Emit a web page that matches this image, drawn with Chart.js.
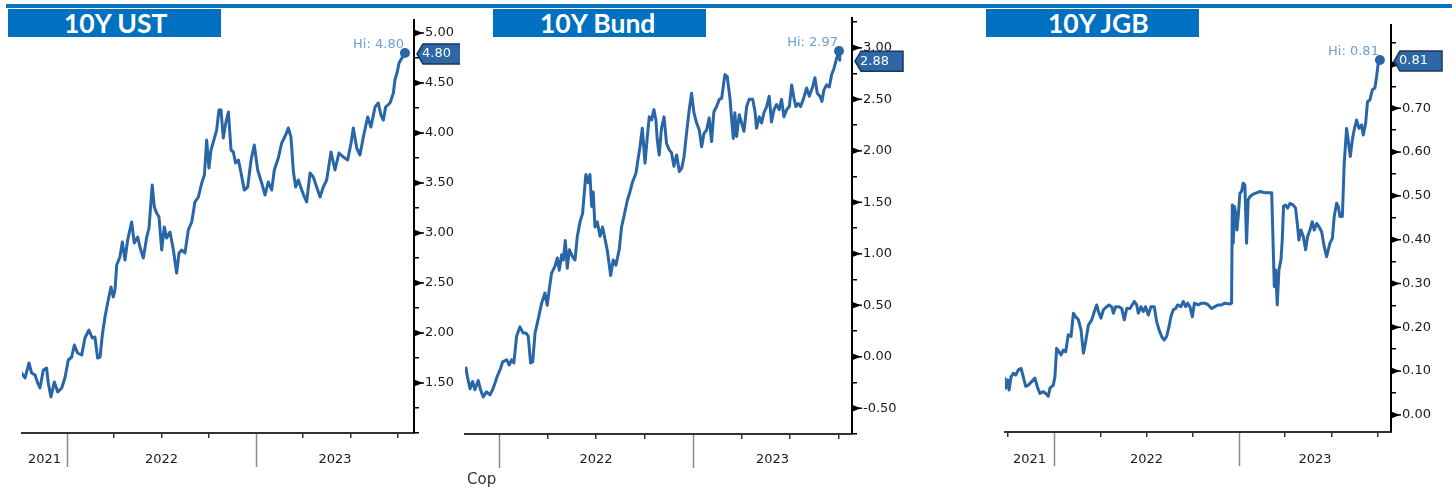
<!DOCTYPE html>
<html><head><meta charset="utf-8">
<script src="https://cdn.jsdelivr.net/npm/chart.js@4.4.0/dist/chart.umd.min.js"></script>
<style>
html,body{margin:0;padding:0;background:#fff;}
body{width:1452px;height:491px;position:relative;overflow:hidden;}
.topline{position:absolute;left:6px;top:4px;width:1446px;height:4px;background:#0c74bf;}
.tbox{position:absolute;top:9px;height:28px;width:213px;background:#0070c0;overflow:hidden;}
.tbox span{position:absolute;top:0;line-height:28px;color:#fff;font-family:Lato,"Open Sans",sans-serif;font-weight:bold;font-size:26.5px;white-space:nowrap;}
canvas{position:absolute;top:0;}
.cop{position:absolute;left:467px;top:470px;font-family:"DejaVu Sans",sans-serif;font-size:15px;color:#333;white-space:nowrap;}
</style></head>
<body>
<div class="topline"></div>
<div class="tbox" style="left:8px"><span style="left:56px">10Y UST</span></div>
<div class="tbox" style="left:493px"><span style="left:47px">10Y Bund</span></div>
<div class="tbox" style="left:986px"><span style="left:62px">10Y JGB</span></div>
<canvas id="c1" width="460" height="491" style="left:0px"></canvas>
<canvas id="c2" width="520" height="491" style="left:460px"></canvas>
<canvas id="c3" width="472" height="491" style="left:980px"></canvas>
<div class="cop">Cop</div>
<script>
// ---------- DATA (x = decimal year, y = yield %) ----------
const ustX = [2021.760,2021.778,2021.799,2021.813,2021.831,2021.845,2021.857,2021.875,2021.892,2021.901,2021.915,2021.933,2021.951,2021.972,2021.989,
2022.007,2022.025,2022.039,2022.056,2022.078,2022.095,2022.116,2022.134,2022.148,2022.162,2022.175,2022.187,2022.201,2022.215,2022.224,2022.233,2022.245,2022.254,2022.263,2022.280,2022.293,2022.307,2022.321,2022.342,2022.356,2022.374,2022.386,2022.404,2022.422,2022.434,2022.451,2022.462,2022.474,2022.487,2022.501,2022.515,2022.527,2022.545,2022.563,2022.580,2022.593,2022.607,2022.624,2022.642,2022.660,2022.677,2022.695,2022.713,2022.727,2022.739,2022.751,2022.762,2022.780,2022.792,2022.804,2022.815,2022.827,2022.840,2022.854,2022.868,2022.880,2022.892,2022.907,2022.921,2022.938,2022.956,2022.974,2022.991,
2023.009,2023.030,2023.048,2023.065,2023.083,2023.097,2023.118,2023.136,2023.157,2023.171,2023.185,2023.198,2023.210,2023.224,2023.242,2023.256,2023.268,2023.286,2023.303,2023.321,2023.339,2023.356,2023.374,2023.397,2023.418,2023.439,2023.462,2023.485,2023.503,2023.515,2023.533,2023.550,2023.568,2023.591,2023.608,2023.630,2023.647,2023.661,2023.674,2023.686,2023.709,2023.727,2023.735,2023.746,2023.757,2023.772,2023.788];
const ustY = [1.60,1.55,1.70,1.60,1.58,1.50,1.45,1.63,1.65,1.50,1.36,1.51,1.41,1.45,1.55,
1.73,1.76,1.88,1.80,1.78,1.95,2.03,1.95,1.96,1.75,1.76,1.98,2.16,2.30,2.38,2.46,2.36,2.43,2.68,2.76,2.91,2.73,2.93,3.11,2.90,2.96,2.86,2.75,2.96,3.05,3.48,3.26,3.20,3.16,2.83,3.06,2.95,3.01,2.83,2.60,2.80,2.83,2.80,3.03,3.11,3.31,3.36,3.50,3.58,3.93,3.65,3.83,3.95,4.03,4.23,4.23,3.95,4.10,4.21,3.83,3.81,3.70,3.73,3.60,3.43,3.46,3.73,3.88,
3.63,3.50,3.38,3.51,3.43,3.63,3.75,3.90,3.98,4.05,3.96,3.61,3.46,3.53,3.43,3.36,3.31,3.60,3.56,3.46,3.36,3.46,3.53,3.81,3.63,3.80,3.76,3.73,3.90,4.05,3.85,3.78,3.96,4.16,4.06,4.26,4.30,4.18,4.13,4.26,4.30,4.40,4.53,4.60,4.70,4.75,4.80];

const bundX = [2021.830,2021.837,2021.851,2021.864,2021.876,2021.893,2021.905,2021.919,2021.936,2021.954,2021.967,2021.979,2021.991,
2022.005,2022.019,2022.040,2022.053,2022.065,2022.077,2022.091,2022.108,2022.125,2022.139,2022.151,2022.163,2022.174,2022.186,2022.203,2022.220,2022.237,2022.249,2022.259,2022.271,2022.289,2022.301,2022.311,2022.323,2022.332,2022.342,2022.352,2022.363,2022.380,2022.392,2022.404,2022.418,2022.431,2022.448,2022.460,2022.469,2022.478,2022.486,2022.495,2022.507,2022.521,2022.534,2022.546,2022.558,2022.576,2022.589,2022.603,2022.620,2022.632,2022.644,2022.662,2022.675,2022.689,2022.706,2022.718,2022.727,2022.739,2022.753,2022.765,2022.775,2022.787,2022.799,2022.809,2022.816,2022.826,2022.838,2022.851,2022.864,2022.878,2022.890,2022.902,2022.916,2022.930,2022.942,2022.954,2022.967,2022.981,2022.993,
2023.005,2023.019,2023.033,2023.045,2023.057,2023.070,2023.084,2023.096,2023.108,2023.122,2023.136,2023.148,2023.165,2023.177,2023.191,2023.199,2023.208,2023.216,2023.225,2023.239,2023.251,2023.263,2023.277,2023.290,2023.308,2023.320,2023.328,2023.342,2023.354,2023.366,2023.380,2023.393,2023.405,2023.418,2023.431,2023.445,2023.457,2023.469,2023.483,2023.497,2023.509,2023.521,2023.531,2023.543,2023.555,2023.569,2023.586,2023.600,2023.617,2023.629,2023.641,2023.655,2023.665,2023.675,2023.689,2023.703,2023.715,2023.727,2023.741,2023.753,2023.757];
const bundY = [-0.11,-0.19,-0.31,-0.24,-0.32,-0.23,-0.32,-0.39,-0.34,-0.37,-0.32,-0.26,-0.19,
-0.13,-0.05,-0.03,-0.08,-0.03,-0.06,0.20,0.29,0.23,0.23,0.20,-0.06,-0.05,0.23,0.37,0.52,0.62,0.50,0.65,0.81,0.88,0.96,0.84,0.99,0.94,1.13,0.86,1.04,0.97,0.94,1.17,1.31,1.39,1.77,1.69,1.77,1.46,1.60,1.26,1.31,1.17,1.26,1.15,1.04,0.79,0.94,0.89,1.04,1.26,1.36,1.52,1.60,1.70,1.78,1.93,2.04,2.22,1.88,2.14,2.33,2.30,2.40,2.30,2.11,1.96,2.22,2.33,2.07,2.01,1.98,1.85,1.96,1.80,1.83,1.94,2.17,2.40,2.56,
2.37,2.27,2.20,2.04,2.17,2.20,2.32,2.09,2.38,2.43,2.50,2.51,2.74,2.72,2.51,2.32,2.12,2.37,2.14,2.35,2.27,2.19,2.43,2.50,2.50,2.38,2.22,2.33,2.27,2.37,2.43,2.53,2.28,2.40,2.45,2.40,2.50,2.33,2.40,2.43,2.64,2.51,2.43,2.46,2.43,2.50,2.61,2.53,2.62,2.71,2.56,2.53,2.48,2.59,2.64,2.62,2.74,2.80,2.90,2.97,2.88];

const jgbX = [2021.733,2021.739,2021.750,2021.757,2021.768,2021.780,2021.793,2021.807,2021.822,2021.829,2021.847,2021.861,2021.879,2021.897,2021.912,2021.924,2021.942,2021.955,2021.969,2021.978,2021.996,
2022.005,2022.014,2022.027,2022.038,2022.050,2022.063,2022.077,2022.092,2022.105,2022.117,2022.132,2022.146,2022.159,2022.171,2022.186,2022.204,2022.218,2022.231,2022.240,2022.254,2022.267,2022.285,2022.297,2022.312,2022.321,2022.333,2022.351,2022.366,2022.380,2022.393,2022.411,2022.434,2022.447,2022.456,2022.470,2022.483,2022.495,2022.510,2022.524,2022.542,2022.555,2022.568,2022.582,2022.596,2022.609,2022.622,2022.632,2022.645,2022.658,2022.668,2022.686,2022.699,2022.712,2022.723,2022.735,2022.748,2022.759,2022.780,2022.798,2022.816,2022.834,2022.852,2022.870,2022.888,2022.906,2022.924,2022.951,2022.960,2022.964,2022.969,2022.975,2022.982,2022.989,2022.996,
2023.005,2023.014,2023.023,2023.032,2023.041,2023.050,2023.059,2023.077,2023.095,2023.114,2023.141,2023.177,2023.191,2023.198,2023.207,2023.216,2023.227,2023.234,2023.241,2023.252,2023.263,2023.276,2023.294,2023.306,2023.317,2023.324,2023.335,2023.348,2023.360,2023.371,2023.384,2023.396,2023.407,2023.420,2023.432,2023.447,2023.461,2023.474,2023.483,2023.492,2023.505,2023.515,2023.528,2023.537,2023.546,2023.559,2023.569,2023.582,2023.595,2023.602,2023.613,2023.623,2023.636,2023.649,2023.663,2023.672,2023.685,2023.695,2023.708,2023.721,2023.735,2023.744,2023.753,2023.762];
const jgbY = [0.084,0.061,0.080,0.057,0.087,0.095,0.091,0.103,0.106,0.095,0.065,0.068,0.076,0.084,0.061,0.049,0.053,0.049,0.043,0.061,0.068,
0.087,0.152,0.144,0.137,0.148,0.144,0.183,0.179,0.232,0.224,0.217,0.194,0.141,0.167,0.205,0.217,0.236,0.251,0.236,0.221,0.240,0.247,0.251,0.247,0.232,0.247,0.247,0.243,0.217,0.243,0.243,0.259,0.251,0.232,0.247,0.236,0.247,0.228,0.247,0.247,0.213,0.194,0.179,0.171,0.179,0.202,0.224,0.240,0.243,0.251,0.247,0.259,0.247,0.255,0.247,0.224,0.255,0.251,0.255,0.255,0.251,0.243,0.247,0.251,0.251,0.255,0.253,0.255,0.479,0.392,0.476,0.460,0.422,0.453,
0.506,0.510,0.529,0.525,0.392,0.491,0.498,0.504,0.507,0.510,0.507,0.507,0.293,0.331,0.251,0.331,0.354,0.399,0.476,0.479,0.472,0.483,0.479,0.472,0.430,0.399,0.422,0.407,0.377,0.407,0.422,0.441,0.422,0.437,0.430,0.418,0.384,0.361,0.377,0.392,0.403,0.453,0.483,0.476,0.453,0.453,0.574,0.654,0.612,0.590,0.628,0.651,0.673,0.654,0.662,0.639,0.666,0.715,0.719,0.742,0.746,0.772,0.803,0.81];

const ustYears = ['2021','2022','2023'];
const bundYears = ['2022','2023'];
const jgbYears = ['2021','2022','2023'];

// ---------- STYLE ----------
const LINE = '#2866a8';
const FONT = '"DejaVu Sans", Verdana, sans-serif';

function buildPanel(id, o) {
  const ctx = document.getElementById(id).getContext('2d');
  const hiVal = Math.max(...o.y);
  const hiIdx = o.y.indexOf(hiVal);
  const last = o.y[o.y.length - 1];
  const isMajor = v => Math.abs(v / o.major - Math.round(v / o.major)) < 1e-6;
  const hasLabel = v => isMajor(v) && v >= o.labelMin - 1e-9;
  const yearTicks = o.years.map(s => {
    const yr = +s; const a = Math.max(yr, o.xMin), b = Math.min(yr + 1, o.xMax);
    return { value: (a + b) / 2, lbl: s };
  });
  const quarterTicks = [];
  for (let q = Math.ceil(o.xMin * 4 - 1e-9); q / 4 <= o.xMax; q++) quarterTicks.push({ value: q / 4, yearLine: q % 4 === 0 });

  const decor = {
    id: 'decor_' + id,
    afterDraw(chart) {
      const c = chart.ctx, xs = chart.scales.x, ys = chart.scales.y, ca = chart.chartArea;
      c.save();
      // year separator lines
      c.strokeStyle = '#8a8a8a'; c.lineWidth = 1.5;
      quarterTicks.filter(t => t.yearLine).forEach(t => {
        const px = Math.round(xs.getPixelForValue(t.value)) + 0.5;
        c.beginPath(); c.moveTo(px, ca.bottom + 1); c.lineTo(px, ca.bottom + 34); c.stroke();
      });
      // major tick arrows on y axis
      c.fillStyle = '#000'; c.strokeStyle = '#000'; c.lineWidth = 1.5;
      ys.ticks.forEach(t => {
        if (!hasLabel(t.value)) return;
        const py = ys.getPixelForValue(t.value), ax = ca.right;
        c.beginPath(); c.moveTo(ax, py - 3.5); c.lineTo(ax + 9, py); c.lineTo(ax, py + 3.5); c.closePath(); c.fill();
        c.beginPath(); c.moveTo(ax, py); c.lineTo(ax + 10, py); c.stroke();
      });
      // Hi label
      const hx = xs.getPixelForValue(o.x[hiIdx]), hy = ys.getPixelForValue(hiVal);
      c.font = '13px ' + FONT; c.fillStyle = '#6b9fd6'; c.textAlign = 'right'; c.textBaseline = 'alphabetic';
      c.fillText('Hi: ' + hiVal.toFixed(2), hx - 1, hy - 5);
      // last value tag
      const ty = ys.getPixelForValue(last) + 1, ax = ca.right;
      c.beginPath();
      c.moveTo(ax + 3, ty); c.lineTo(ax + 9, ty - 10); c.lineTo(ax + o.tagW, ty - 10);
      c.lineTo(ax + o.tagW, ty + 10); c.lineTo(ax + 9, ty + 10); c.closePath();
      c.fillStyle = '#2d67a6'; c.fill(); c.strokeStyle = '#1c3657'; c.lineWidth = 1.5; c.stroke();
      c.fillStyle = '#fff'; c.textAlign = 'left'; c.textBaseline = 'middle';
      c.fillText(last.toFixed(2), ax + 8, ty);
      c.restore();
    }
  };

  return new Chart(ctx, {
    type: 'line',
    data: { datasets: [{
      data: o.x.map((v, i) => ({ x: v, y: o.y[i] })),
      borderColor: LINE, borderWidth: 3, tension: 0, fill: false,
      borderJoinStyle: 'round', borderCapStyle: 'round',
      pointRadius: c => c.dataIndex === hiIdx ? 5 : 0,
      pointHoverRadius: 0, pointBackgroundColor: LINE, pointBorderWidth: 0
    }] },
    options: {
      responsive: false, animation: false, devicePixelRatio: 1, events: [],
      layout: { padding: { left: o.padL, top: o.padT, right: 0, bottom: 0 } },
      plugins: { legend: { display: false }, tooltip: { enabled: false } },
      scales: {
        x: {
          type: 'linear', position: 'bottom', min: o.xMin, max: o.xMax,
          afterBuildTicks: s => { s.ticks = quarterTicks.concat(yearTicks).sort((a, b) => a.value - b.value); },
          afterFit: s => { s.height = o.xH; },
          ticks: { autoSkip: false, maxRotation: 0, minRotation: 0, padding: o.xPad,
            font: { family: FONT, size: 13 }, color: '#1a1a1a',
            callback: (v, i, t) => (t[i] && t[i].lbl) ? t[i].lbl : '' },
          grid: { drawOnChartArea: false, drawTicks: true, tickLength: 5, lineWidth: 1.5,
            color: c => (c.tick && !c.tick.lbl && !c.tick.yearLine) ? '#333' : 'rgba(0,0,0,0)' },
          border: { display: true, color: '#333', width: 2 }
        },
        y: {
          type: 'linear', position: 'right', min: o.yMin, max: o.yMax,
          afterBuildTicks: s => {
            const t = [];
            for (let k = Math.ceil(o.yMin / o.step - 1e-9); k * o.step <= o.yMax + 1e-9; k++) t.push({ value: +(k * o.step).toFixed(4) });
            s.ticks = t;
          },
          afterFit: s => { s.width = o.yW; },
          ticks: { autoSkip: false, padding: 6, font: { family: FONT, size: 13 }, color: '#1a1a1a',
            callback: v => hasLabel(v) ? v.toFixed(2) : '' },
          grid: { drawOnChartArea: false, drawTicks: true, tickLength: 5, lineWidth: 1.5, color: '#000' },
          border: { display: true, color: '#000', width: 2 }
        }
      }
    },
    plugins: [decor]
  });
}

buildPanel('c1', { x: ustX, y: ustY, years: ustYears,
  xMin: 2021.762, xMax: 2023.836, yMin: 1.0, yMax: 5.13, step: 0.25, major: 0.5, labelMin: 1.5,
  padL: 22, padT: 20, yW: 46, xH: 58, xPad: 13.7, tagW: 51 });
buildPanel('c2', { x: bundX, y: bundY, years: bundYears,
  xMin: 2021.825, xMax: 2023.820, yMin: -0.75, yMax: 3.29, step: 0.25, major: 0.5, labelMin: -0.5,
  padL: 5, padT: 18, yW: 128, xH: 57, xPad: 12.7, tagW: 51 });
buildPanel('c3', { x: jgbX, y: jgbY, years: jgbYears,
  xMin: 2021.735, xMax: 2023.822, yMin: -0.039, yMax: 0.89, step: 0.05, major: 0.1, labelMin: 0,
  padL: 25, padT: 25, yW: 61, xH: 59, xPad: 14.7, tagW: 51 });
</script>
</body></html>
